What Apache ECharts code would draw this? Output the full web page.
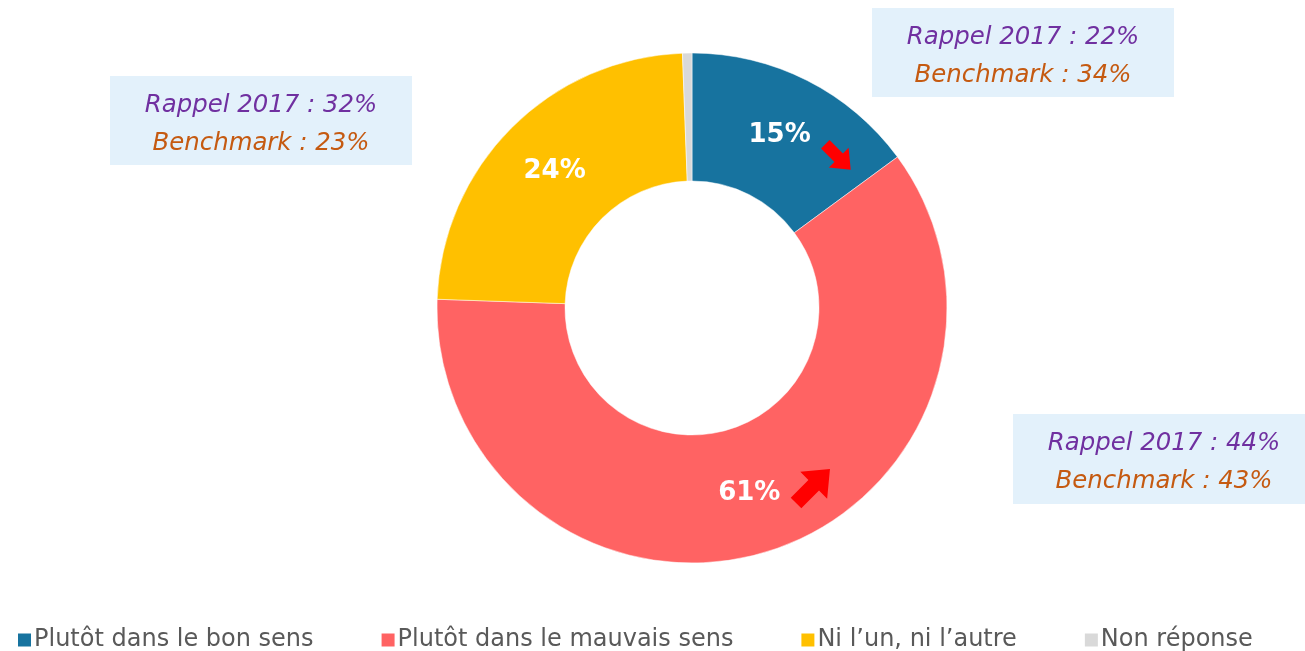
<!DOCTYPE html>
<html>
<head>
<meta charset="utf-8">
<script src="https://cdn.jsdelivr.net/npm/echarts@6/dist/echarts.min.js"></script>
<style>
html,body{margin:0;padding:0;background:#fff;}
#chart{width:1305px;height:651px;}
</style>
</head>
<body>
<div id="chart"></div>
<script>
// Répartition des réponses
const categories = ['Plutôt dans le bon sens', 'Plutôt dans le mauvais sens', 'Ni l\u2019un, ni l\u2019autre', 'Non réponse'];
const values = [15, 61, 24, 0.6];
const colors = ['#17739f', '#ff6363', '#ffc000', '#d9d9d9'];
const showLabel = [true, true, true, false];

// Encadrés de rappel : [rappel 2017, benchmark]
const rappel2017 = ['22%', '44%', '32%'];
const benchmark = ['34%', '43%', '23%'];

const chart = echarts.init(document.getElementById('chart'), null, {renderer: 'canvas'});

const cx = 692, cy = 308;
const noteFont = 'italic 24.4px "DejaVu Sans"';

function noteBox(x, y, w, h, textX, r, b) {
  return {
    type: 'group',
    left: x, top: y,
    z: 50,
    children: [
      {type: 'rect', shape: {x: 0, y: 0, width: w, height: h}, style: {fill: '#e3f1fb'}},
      {type: 'text', x: textX, y: 30, style: {text: 'Rappel 2017 : ' + r, fill: '#7030a0',
        font: noteFont, textAlign: 'center', textVerticalAlign: 'middle'}},
      {type: 'text', x: textX, y: 68, style: {text: 'Benchmark : ' + b, fill: '#c55a11',
        font: noteFont, textAlign: 'center', textVerticalAlign: 'middle'}}
    ]
  };
}

// flèche pointant vers la droite, tournée ensuite
function arrow(x, y, len, shaftW, headW, headL, rot) {
  const a = -len / 2, c = len / 2 - headL, e = len / 2;
  return {
    type: 'polygon', x: x, y: y, rotation: rot, z: 100,
    shape: {points: [[a, -shaftW], [c, -shaftW], [c, -headW], [e, 0], [c, headW], [c, shaftW], [a, shaftW]]},
    style: {fill: '#ff0000'}
  };
}

const option = {
  backgroundColor: '#ffffff',
  animation: false,
  color: colors,
  legend: {
    top: 623,
    left: 11,
    icon: 'rect',
    itemWidth: 15,
    itemHeight: 15,
    itemGap: 66,
    textStyle: {fontSize: 24, color: '#595959', fontFamily: '"DejaVu Sans", sans-serif', padding: [0, 0, 0, -3]},
    data: categories
  },
  series: [{
    type: 'pie',
    center: [cx, cy],
    radius: [127, 255],
    startAngle: 90,
    clockwise: true,
    avoidLabelOverlap: false,
    itemStyle: {borderColor: '#ffffff', borderWidth: 0.5},
    label: {
      position: 'inside',
      color: '#ffffff',
      fontSize: 26,
      fontWeight: 'bold',
      fontFamily: '"DejaVu Sans", sans-serif',
      formatter: p => p.value + '%'
    },
    labelLine: {show: false},
    emphasis: {disabled: true},
    data: categories.map((n, i) => ({name: n, value: values[i], label: {show: showLabel[i]}}))
  }],
  graphic: [
    noteBox(872, 8, 302, 89, 151, rappel2017[0], benchmark[0]),
    noteBox(1013, 414, 292, 90, 151, rappel2017[1], benchmark[1]),
    noteBox(110, 76, 302, 89, 151, rappel2017[2], benchmark[2]),
    arrow(838, 157, 36, 6, 14, 17, -Math.PI / 4),
    arrow(813, 486, 48, 7.5, 19, 23, Math.PI / 4)
  ]
};

chart.setOption(option);
</script>
</body>
</html>
